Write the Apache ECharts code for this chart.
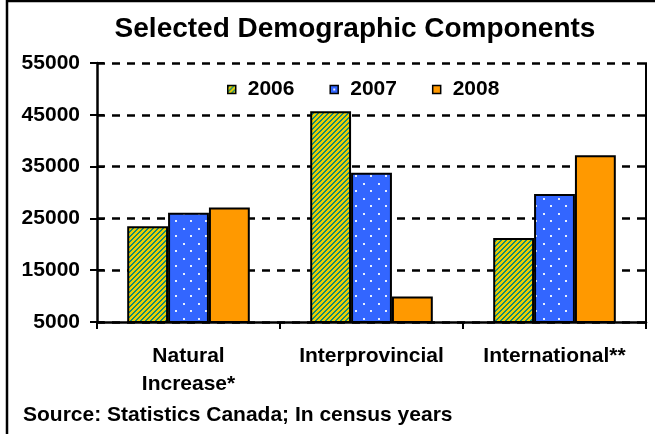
<!DOCTYPE html>
<html>
<head>
<meta charset="utf-8">
<script src="https://cdn.jsdelivr.net/npm/echarts@6/dist/echarts.min.js"></script>
<style>
html,body{margin:0;padding:0;background:#fff;}
#chart{width:655px;height:434px;}
</style>
</head>
<body>
<div id="chart"></div>
<script>
const categories = ['Natural\nIncrease*', 'Interprovincial', 'International**'];
const seriesNames = ['2006', '2007', '2008'];
const values2006 = [23500, 45700, 21200];
const values2007 = [26100, 33800, 29700];
const values2008 = [27100, 9900, 37200];
const yTicks = [5000, 15000, 25000, 35000, 45000, 55000];

const FONT = '"Liberation Sans", Arial, Helvetica, sans-serif';

function stripePattern() {
  const n = 5;
  const c = document.createElement('canvas');
  c.width = n; c.height = n;
  const ctx = c.getContext('2d');
  const img = ctx.createImageData(n, n);
  for (let y = 0; y < n; y++) {
    for (let x = 0; x < n; x++) {
      const i = (y * n + x) * 4;
      const g = ((x + y) % n) < 2;
      const col = g ? [20, 138, 118] : [236, 206, 0];
      img.data[i] = col[0]; img.data[i + 1] = col[1]; img.data[i + 2] = col[2]; img.data[i + 3] = 255;
    }
  }
  ctx.putImageData(img, 0, 0);
  return c;
}
function dotPattern() {
  const c = document.createElement('canvas');
  c.width = 15; c.height = 15;
  const ctx = c.getContext('2d');
  ctx.fillStyle = '#3366ff';
  ctx.fillRect(0, 0, 15, 15);
  ctx.fillStyle = '#e6eeff';
  ctx.fillRect(3, 3, 2, 2);
  ctx.fillRect(10, 10, 2, 2);
  return c;
}

const fills = [
  { image: stripePattern(), repeat: 'repeat' },
  { image: dotPattern(), repeat: 'repeat' },
  '#ff9900'
];
const dataSets = [values2006, values2007, values2008];

const chart = echarts.init(document.getElementById('chart'), null, { renderer: 'canvas' });
const yMin = yTicks[0], yMax = yTicks[yTicks.length - 1], yStep = yTicks[1] - yTicks[0];

chart.setOption({
  animation: false,
  backgroundColor: '#fff',
  title: {
    text: 'Selected Demographic Components',
    left: 350, textAlign: 'center', top: 10,
    textStyle: { fontFamily: FONT, fontSize: 28, fontWeight: 'bold', color: '#000' }
  },
  legend: {
    data: seriesNames,
    left: 222, top: 74,
    itemWidth: 8, itemHeight: 8, itemGap: 35,
    icon: 'rect',
    itemStyle: { borderColor: '#000', borderWidth: 1.5 },
    textStyle: { fontFamily: FONT, fontSize: 21, fontWeight: 'bold', color: '#000', padding: [0, 0, 0, 7] }
  },
  grid: { left: 97, right: 9, top: 63, bottom: 112, containLabel: false },
  xAxis: {
    type: 'category',
    data: categories,
    axisLine: { lineStyle: { color: '#000', width: 2.5 } },
    axisTick: { show: true, length: 7, lineStyle: { color: '#000', width: 2 } },
    axisLabel: { fontFamily: FONT, fontSize: 21, fontWeight: 'bold', color: '#000', margin: 20, lineHeight: 28, interval: 0 },
    splitLine: { show: false }
  },
  yAxis: [
    {
      type: 'value', min: yMin, max: yMax, interval: yStep, position: 'left',
      axisLine: { show: true, lineStyle: { color: '#000', width: 2.5 } },
      axisTick: { show: true, length: 7, lineStyle: { color: '#000', width: 2 } },
      axisLabel: { fontFamily: FONT, fontSize: 21, fontWeight: 'bold', color: '#000', margin: 17, formatter: v => String(v) },
      splitLine: { show: true, lineStyle: { color: '#000', width: 2.5, type: [8, 7] } }
    },
    {
      type: 'value', min: yMin, max: yMax, interval: yStep, position: 'left',
      axisLine: { show: false },
      axisTick: { show: true, inside: true, length: 7, lineStyle: { color: '#000', width: 2 } },
      axisLabel: { show: false },
      splitLine: { show: false }
    },
    {
      type: 'value', min: yMin, max: yMax, interval: yStep, position: 'right',
      axisLine: { show: true, lineStyle: { color: '#000', width: 2 } },
      axisTick: { show: false },
      axisLabel: { show: false },
      splitLine: { show: false }
    }
  ],
  series: seriesNames.map((name, i) => ({
    name: name,
    type: 'bar',
    data: dataSets[i],
    barGap: '0%',
    barCategoryGap: '33%',
    itemStyle: { color: fills[i], borderColor: '#000', borderWidth: 2 }
  })),
  graphic: [
    { type: 'line', shape: { x1: 7, y1: 1, x2: 655, y2: 1 }, style: { stroke: '#000', lineWidth: 2.5 } },
    { type: 'line', shape: { x1: 7, y1: 0, x2: 7, y2: 434 }, style: { stroke: '#000', lineWidth: 2.5 } },
    { type: 'text', left: 23, top: 405, style: { text: 'Source: Statistics Canada; In census years', font: 'bold 21px ' + FONT, fill: '#000' } }
  ]
});
</script>
</body>
</html>
